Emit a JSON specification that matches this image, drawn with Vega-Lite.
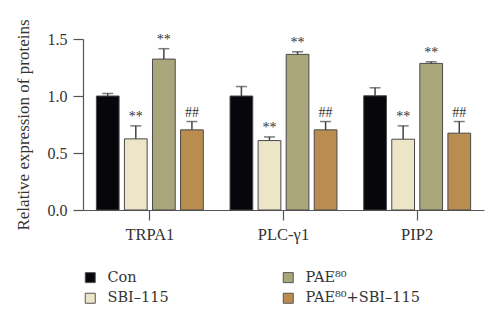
{
  "$schema": "https://vega.github.io/schema/vega-lite/v6.json",
  "width": 401,
  "height": 171,
  "autosize": "none",
  "padding": {"left": 83, "top": 39, "right": 16, "bottom": 113},
  "background": "white",
  "data": {
    "values": [
      {"gene": "TRPA1", "group": "Con", "value": 1.0, "upper": 1.022, "sig": ""},
      {"gene": "TRPA1", "group": "SBI–115", "value": 0.624, "upper": 0.738, "sig": "**"},
      {"gene": "TRPA1", "group": "PAE⁸⁰", "value": 1.324, "upper": 1.415, "sig": "**"},
      {"gene": "TRPA1", "group": "PAE⁸⁰+SBI–115", "value": 0.703, "upper": 0.776, "sig": "##"},
      {"gene": "PLC-γ1", "group": "Con", "value": 1.0, "upper": 1.083, "sig": ""},
      {"gene": "PLC-γ1", "group": "SBI–115", "value": 0.609, "upper": 0.641, "sig": "**"},
      {"gene": "PLC-γ1", "group": "PAE⁸⁰", "value": 1.365, "upper": 1.388, "sig": "**"},
      {"gene": "PLC-γ1", "group": "PAE⁸⁰+SBI–115", "value": 0.703, "upper": 0.776, "sig": "##"},
      {"gene": "PIP2", "group": "Con", "value": 1.002, "upper": 1.072, "sig": ""},
      {"gene": "PIP2", "group": "SBI–115", "value": 0.621, "upper": 0.738, "sig": "**"},
      {"gene": "PIP2", "group": "PAE⁸⁰", "value": 1.286, "upper": 1.3, "sig": "**"},
      {"gene": "PIP2", "group": "PAE⁸⁰+SBI–115", "value": 0.674, "upper": 0.776, "sig": "##"}
    ]
  },
  "encoding": {
    "x": {
      "field": "gene", "type": "nominal", "sort": ["TRPA1", "PLC-γ1", "PIP2"],
      "scale": {"paddingInner": 0.2, "paddingOuter": 0.1},
      "axis": {"title": null, "labelAngle": 0, "tickSize": 10, "labelPadding": 6, "labelFontSize": 16.5, "domainColor": "#555", "tickColor": "#555", "domainWidth": 1.2, "tickWidth": 1.2}
    },
    "xOffset": {
      "field": "group", "type": "nominal",
      "sort": ["Con", "SBI–115", "PAE⁸⁰", "PAE⁸⁰+SBI–115"],
      "scale": {"paddingInner": 0.19, "paddingOuter": 0}
    }
  },
  "layer": [
    {
      "mark": {"type": "bar", "stroke": "#4a4a4a", "strokeWidth": 1},
      "encoding": {
        "y": {
          "field": "value", "type": "quantitative",
          "scale": {"domain": [0, 1.5], "nice": false},
          "axis": {"title": "Relative expression of proteins", "values": [0, 0.5, 1, 1.5], "format": ".1f", "grid": false, "tickSize": 10, "labelPadding": 6, "labelFontSize": 16, "titleFontSize": 17, "titleFontWeight": "normal", "titlePadding": 15, "domainColor": "#555", "tickColor": "#555", "domainWidth": 1.2, "tickWidth": 1.2}
        },
        "color": {
          "field": "group", "type": "nominal",
          "scale": {
            "domain": ["Con", "SBI–115", "PAE⁸⁰", "PAE⁸⁰+SBI–115"],
            "range": ["#07070b", "#ece5c8", "#aaa67b", "#b98d50"]
          },
          "legend": {
            "title": null,
            "orient": "none",
            "legendX": 0,
            "legendY": 231,
            "columns": 2,
            "direction": "vertical",
            "symbolType": "square",
            "symbolSize": 100,
            "symbolStrokeColor": "#555",
            "symbolStrokeWidth": 1,
            "labelFont": "DejaVu Serif",
            "labelFontSize": 14.5,
            "labelOffset": 10,
            "rowPadding": 5,
            "columnPadding": 112
          }
        }
      }
    },
    {
      "mark": {"type": "rule", "color": "#444", "strokeWidth": 1.5},
      "encoding": {
        "y": {"field": "value", "type": "quantitative"},
        "y2": {"field": "upper"}
      }
    },
    {
      "mark": {"type": "tick", "color": "#444", "thickness": 1.5, "size": 11},
      "encoding": {
        "y": {"field": "upper", "type": "quantitative"}
      }
    },
    {
      "mark": {"type": "text", "baseline": "bottom", "dy": -2, "fontSize": 14, "color": "#333"},
      "encoding": {
        "y": {"field": "upper", "type": "quantitative"},
        "text": {"field": "sig"}
      }
    }
  ],
  "config": {
    "font": "Liberation Serif",
    "view": {"stroke": null},
    "axis": {"labelColor": "#333", "titleColor": "#333", "labelFont": "Liberation Serif", "titleFont": "Liberation Serif"},
    "legend": {"labelColor": "#333"}
  }
}
